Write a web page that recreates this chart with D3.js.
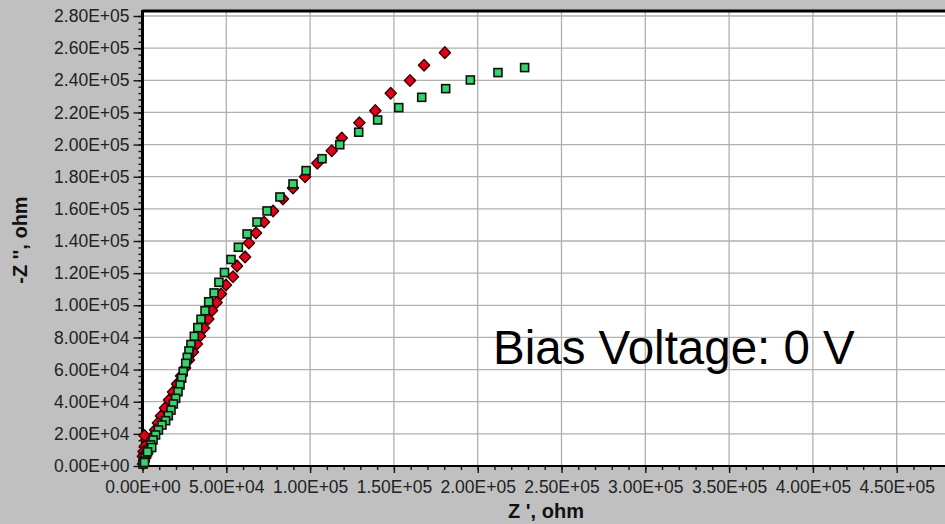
<!DOCTYPE html>
<html>
<head>
<meta charset="utf-8">
<script src="https://cdn.jsdelivr.net/npm/d3@7"></script>
<style>
  html, body { margin: 0; padding: 0; background: #c0c0c0; overflow: hidden; }
  svg { display: block; }
</style>
</head>
<body>
<svg id="chart" width="945" height="524"></svg>
<script>
// Nyquist impedance data (Z' and -Z'' in ohm) for two measurement runs
const redZre = [180400, 168000, 159600, 148100, 138900, 129400, 118900, 112900, 104300, 97000,
  89800, 83800, 77900, 72500, 67700, 63500, 61200, 56400, 54000, 49800, 46800, 44200, 41500,
  39300, 36700, 34300, 32500, 30100, 27700, 25400, 23000, 20600, 18200, 15800, 13400, 11000,
  9200, 7500, 5700, 4500, 3300, 2100, 2100, 1500, 1500, 900, 300, 1200, 600, 200];
const redZim = [257200, 249400, 239900, 231900, 221100, 213600, 204100, 196200, 188400, 180000,
  173000, 166200, 158700, 151800, 145000, 138800, 130100, 124500, 117800, 112600, 107000, 101700, 96800,
  91500, 85900, 80900, 75900, 70900, 66000, 61000, 56000, 51000, 46000, 41100, 36100, 31100,
  26800, 22400, 18000, 14300, 10600, 16200, 7500, 12400, 5000, 3100, 1200, 19000, 9000, 6000];

const greenZre = [228000, 212100, 195600, 180900, 166600, 152900, 140300, 129000, 117700, 107100,
  97600, 89800, 82000, 74300, 68300, 62400, 57200, 52800, 48900, 45600, 42700, 39500, 37300,
  34900, 33000, 30900, 28900, 27700, 26700, 25800, 24300, 23400, 22400, 21200, 19800, 18400,
  17000, 15400, 13800, 11600, 9500, 7800, 6300, 4800, 3600, 2400, 1500, 900, 300, 5500, 3000, 1200];
const greenZim = [247900, 244800, 240200, 234800, 229400, 223000, 215300, 207700, 199900, 191200,
  183800, 175500, 167400, 158700, 151800, 144400, 136100, 128500, 120400, 114300, 107700, 102200, 96600,
  91300, 86100, 80700, 75600, 71600, 67600, 63900, 58700, 54600, 50400, 46200, 42100, 38600,
  34800, 31300, 28200, 25500, 22400, 19300, 16200, 13100, 10000, 7500, 5000, 3100, 1200, 11500, 8800, 2200];

const xTicks = [0, 50000, 100000, 150000, 200000, 250000, 300000, 350000, 400000, 450000];
const yTicks = [0, 20000, 40000, 60000, 80000, 100000, 120000, 140000, 160000, 180000,
  200000, 220000, 240000, 260000, 280000];
const xTitle = "Z ', ohm";
const yTitle = "-Z '', ohm";
const note = "Bias Voltage: 0 V";

const fmt = v => {
  const s = v.toExponential(2).toUpperCase();       // e.g. 2.80E+5
  return s.replace(/E([+-])(\d)$/, "E$10$2");       // -> 2.80E+05
};

const svg = d3.select("#chart");
const W = 945, H = 524;
const plot = { left: 142.5, top: 11, bottom: 466 };
const font = "Liberation Sans, Arial, sans-serif";

const x = d3.scaleLinear().domain([0, 500000]).range([plot.left, plot.left + 838]);
const y = d3.scaleLinear().domain([0, 280000]).range([plot.bottom, 16]);

// plot background
svg.append("rect")
  .attr("x", plot.left).attr("y", plot.top)
  .attr("width", W - plot.left + 10).attr("height", plot.bottom - plot.top)
  .attr("fill", "#ffffff");

// grid
const grid = svg.append("g").attr("stroke", "#b0b0b0").attr("stroke-width", 1.3);
grid.selectAll("line.v").data(xTicks.slice(1)).join("line")
  .attr("x1", d => x(d)).attr("x2", d => x(d))
  .attr("y1", plot.top).attr("y2", plot.bottom);
grid.selectAll("line.h").data(yTicks.slice(1)).join("line")
  .attr("x1", plot.left).attr("x2", W + 5)
  .attr("y1", d => y(d)).attr("y2", d => y(d));

// axes
const xAxis = d3.axisBottom(x).tickValues(xTicks).tickFormat(fmt).tickSize(7).tickPadding(8);
const xMinor = d3.axisBottom(x).tickValues(d3.range(0, 500001, 10000)).tickFormat("").tickSize(4);
const yAxis = d3.axisLeft(y).tickValues(yTicks).tickFormat(fmt).tickSize(9).tickPadding(4);
const yMinor = d3.axisLeft(y).tickValues(d3.range(0, 280001, 4000)).tickFormat("").tickSize(4);

const gxm = svg.append("g").attr("transform", `translate(0,${plot.bottom})`).call(xMinor);
const gx = svg.append("g").attr("transform", `translate(0,${plot.bottom})`).call(xAxis);
const gym = svg.append("g").attr("transform", `translate(${plot.left},0)`).call(yMinor);
const gy = svg.append("g").attr("transform", `translate(${plot.left},0)`).call(yAxis);

[gx, gxm, gy, gym].forEach(g => {
  g.select(".domain").remove();
  g.selectAll(".tick line").attr("stroke", "#111").attr("stroke-width", 1.4);
  g.selectAll(".tick text")
    .attr("fill", "#222")
    .style("font-family", font)
    .style("font-size", "17.5px");
});

// frame lines
svg.append("line").attr("x1", plot.left).attr("x2", W + 5)
  .attr("y1", plot.top).attr("y2", plot.top).attr("stroke", "#000").attr("stroke-width", 3);
svg.append("line").attr("x1", plot.left).attr("x2", W + 5)
  .attr("y1", plot.bottom).attr("y2", plot.bottom).attr("stroke", "#000").attr("stroke-width", 2);
svg.append("line").attr("x1", plot.left).attr("x2", plot.left)
  .attr("y1", plot.top - 1).attr("y2", plot.bottom + 1).attr("stroke", "#000").attr("stroke-width", 3);

// markers
const marks = svg.append("g");
const diamond = "M0,-5.8L5.6,0L0,5.8L-5.6,0Z";
marks.append("g").selectAll("path").data(redZre.map((v, i) => [v, redZim[i]])).join("path")
  .attr("d", diamond)
  .attr("transform", d => `translate(${x(d[0])},${y(d[1])})`)
  .attr("fill", "#e3001b").attr("stroke", "#3a0000").attr("stroke-width", 1.4)
  .attr("stroke-linejoin", "round");

marks.append("g").selectAll("rect").data(greenZre.map((v, i) => [v, greenZim[i]])).join("rect")
  .attr("x", d => x(d[0]) - 4).attr("y", d => y(d[1]) - 4)
  .attr("width", 8).attr("height", 8)
  .attr("fill", "#35d36a").attr("stroke", "#101010").attr("stroke-width", 1.6);

// titles
svg.append("text")
  .attr("x", 546).attr("y", 518).attr("text-anchor", "middle")
  .style("font-family", font)
  .style("font-size", "20px").style("font-weight", "bold").attr("fill", "#111")
  .text(xTitle);

svg.append("text")
  .attr("transform", "translate(27,240) rotate(-90)").attr("text-anchor", "middle")
  .style("font-family", font)
  .style("font-size", "20px").style("font-weight", "bold").attr("fill", "#111")
  .text(yTitle);

svg.append("text")
  .attr("x", 493).attr("y", 364)
  .style("font-family", font)
  .style("font-size", "47.5px").attr("fill", "#000")
  .text(note);
</script>
</body>
</html>
